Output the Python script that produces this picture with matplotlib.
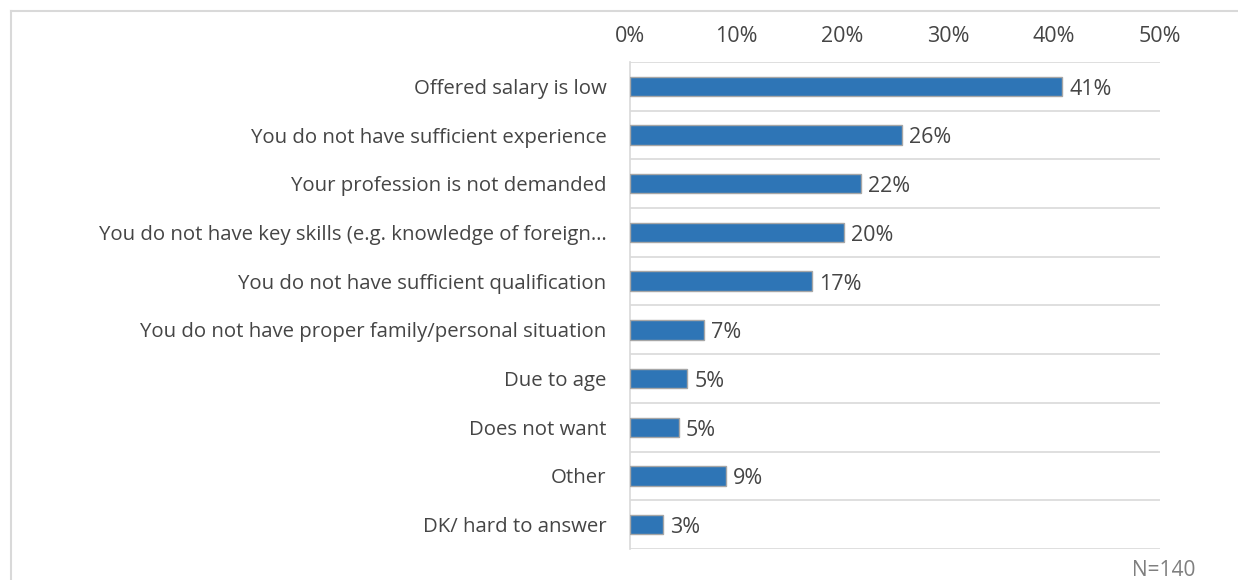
import matplotlib.pyplot as plt
from matplotlib.lines import Line2D

categories = [
    "Offered salary is low",
    "You do not have sufficient experience",
    "Your profession is not demanded",
    "You do not have key skills (e.g. knowledge of foreign\u2026",
    "You do not have sufficient qualification",
    "You do not have proper family/personal situation",
    "Due to age",
    "Does not want",
    "Other",
    "DK/ hard to answer",
]
values = [40.8, 25.7, 21.8, 20.2, 17.2, 7.0, 5.4, 4.6, 9.1, 3.1]
value_labels = ["41%", "26%", "22%", "20%", "17%", "7%", "5%", "5%", "9%", "3%"]
x_ticks = [0, 10, 20, 30, 40, 50]
x_tick_labels = ["0%", "10%", "20%", "30%", "40%", "50%"]

plt.rcParams['font.family'] = ['Open Sans', 'DejaVu Sans']
text_color = '#454545'
grid_color = '#d9d9d9'

fig = plt.figure(figsize=(12.38, 5.8), dpi=100)
ax = fig.add_axes([630 / 1238, 1 - 549 / 580, 530 / 1238, (549 - 62) / 580])

y = list(range(len(categories)))
ax.barh(y, values, height=0.4, color='#2e75b6', edgecolor='#a6a6a6', linewidth=1.0, zorder=3)

# value labels just to the right of each bar, sitting a touch low like Excel does
for yi, v, lab in zip(y, values, value_labels):
    ax.text(v + 0.65, yi + 0.06, lab, va='center', ha='left', fontsize=15.5, color=text_color)

ax.set_xlim(0, 50)
ax.set_ylim(len(categories) - 0.5, -0.5)

# category separators
for b in range(len(categories) + 1):
    ax.axhline(b - 0.5, color=grid_color, linewidth=1.2, zorder=1)

ax.xaxis.tick_top()
ax.set_xticks(x_ticks)
ax.set_xticklabels(x_tick_labels, fontsize=15.5, color=text_color)
ax.set_yticks(y)
ax.set_yticklabels(categories, fontsize=14.7, color=text_color)
ax.tick_params(axis='x', length=0, pad=11)
ax.tick_params(axis='y', length=0, pad=17)

for s in ['top', 'right', 'bottom']:
    ax.spines[s].set_visible(False)
ax.spines['left'].set_color(grid_color)
ax.spines['left'].set_linewidth(1.2)

# outer chart frame (runs off the right and bottom edges)
fig.add_artist(Line2D([11 / 1238, 1.0], [1 - 11 / 580, 1 - 11 / 580], color='#d9d9d9', linewidth=1.5))
fig.add_artist(Line2D([11 / 1238, 11 / 1238], [0.0, 1 - 11 / 580], color='#d9d9d9', linewidth=1.5))

fig.text(1164 / 1238, 1 - 571 / 580, "N=140", ha='center', va='center', fontsize=15, color='#7f7f7f')

plt.savefig('out.png', dpi=100)
